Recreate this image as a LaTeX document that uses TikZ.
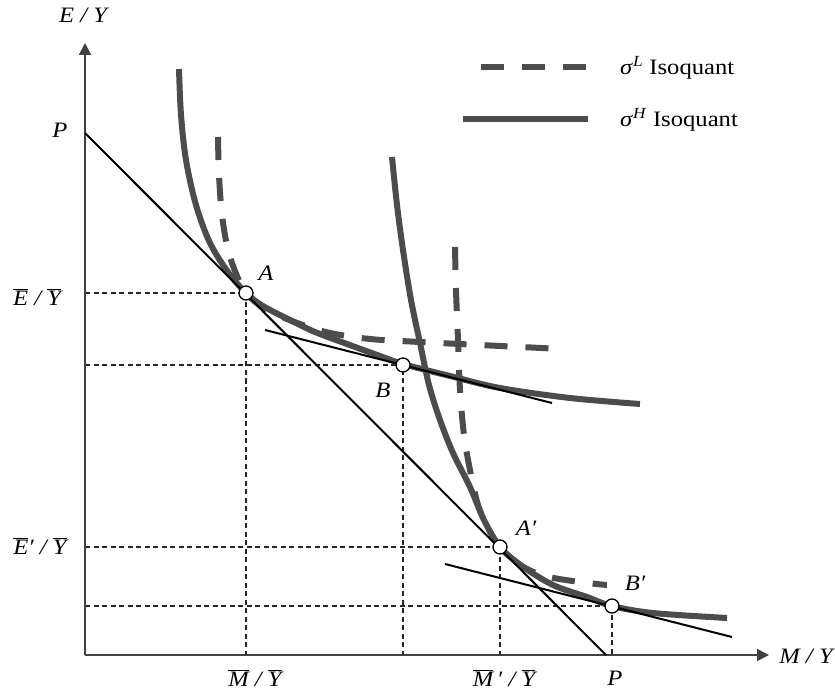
\documentclass[tikz,border=0pt]{standalone}
\usepackage{fontspec}
\setmainfont{Liberation Serif}[FakeStretch=1.12]
\usetikzlibrary{arrows.meta}
\newcommand\barit[1]{$\overline{\mbox{\itshape #1}}$}
\begin{document}
\begin{tikzpicture}[x=1pt,y=-1pt,
  axis/.style={draw=black!75,line width=2pt},
  guide/.style={draw=black!85,line width=1.3pt,dash pattern=on 5pt off 3.5pt},
  budget/.style={draw=black,line width=2pt},
  isoH/.style={draw=black!70,line width=6pt},
  isoL/.style={draw=black!70,line width=6pt,dash pattern=on 23pt off 18pt},
  pt/.style={circle,draw=black,fill=white,line width=1.3pt,minimum size=14pt,inner sep=0pt},
  lab/.style={font=\fontsize{22}{26}\selectfont\itshape,inner sep=1pt},
  leg/.style={font=\fontsize{22}{26}\selectfont,anchor=west,inner sep=0pt}]
\useasboundingbox (0,0) rectangle (835,692);
% key coordinates
\coordinate (O) at (85,655);
\coordinate (Ytop) at (85,43);
\coordinate (Xend) at (769,655);
\coordinate (P1) at (85,133);
\coordinate (P2) at (606,655);
\coordinate (Bt1) at (265,330);
\coordinate (Bt2) at (552,403);
\coordinate (Bpt1) at (445,564);
\coordinate (Bpt2) at (732,637);
\coordinate (cA) at (246,293);
\coordinate (cB) at (403,365);
\coordinate (cA2) at (500,547);
\coordinate (cB2) at (612,606);
% guide lines
\draw[guide] (O |- cA) -- (cA) -- (cA |- O);
\draw[guide] (O |- cB) -- (cB) -- (cB |- O);
\draw[guide] (O |- cA2) -- (cA2) -- (cA2 |- O);
\draw[guide] (O |- cB2) -- (cB2) -- (cB2 |- O);
% axes
\draw[axis,-{Triangle[length=12pt,width=12pt]}] (O) -- (Ytop);
\draw[axis,-{Triangle[length=12pt,width=12pt]}] (O) -- (Xend);
% dashed isoquants
\draw[isoL] plot[smooth,tension=0.55] coordinates {(218,137) (219,175) (222,215) (228,250) (237,276) (246,293) (262,307) (280,316) (300,324) (330,333) (370,339) (420,342) (480,345) (562,349)};
\draw[isoL] plot[smooth,tension=0.55] coordinates {(455,247) (456,290) (458,340) (460,390) (464,435) (470,470) (478,505) (488,528) (500,547) (520,565) (545,576) (580,582) (620,586) (667,587)};
% solid isoquants
\draw[isoH] plot[smooth,tension=0.55] coordinates {(179,69) (181,115) (186,160) (196,205) (210,243) (228,272) (246,293) (263,306) (290,320) (315,332) (347,344) (380,356) (403,364) (450,376) (500,388) (570,398) (640,404)};
\draw[isoH] plot[smooth,tension=0.55] coordinates {(392,157) (397,205) (403,250) (411,300) (420,343) (429,385) (440,420) (453,453) (470,487) (484,520) (500,547) (522,566) (553,585) (587,597) (612,606) (653,613) (727,618)};
% budget and tangent lines
\draw[budget] (P1) -- (P2);
\draw[budget] (Bt1) -- (Bt2);
\draw[budget] (Bpt1) -- (Bpt2);
% points
\node[pt] (A) at (cA) {};
\node[pt] (B) at (cB) {};
\node[pt] (A2) at (cA2) {};
\node[pt] (B2) at (cB2) {};
% labels
\node[lab] (lA) at (266,273) {A};
\node[lab] (lB) at (383,390) {B};
\node[lab] (lA2) at (526,528) {A′};
\node[lab,fill=white,minimum width=56pt,minimum height=24pt] (lB2) at (635,583) {B′};
\node[lab] (lEY) at (83,15) {E / Y};
\node[lab] (lMY) at (806,656) {M / Y};
\node[lab] (lP1) at (60,130) {P};
\node[lab] (lP2) at (615,678) {P};
\node[lab] (lE) at (37,297) {\barit{E} / \barit{Y}};
\node[lab] (lE2) at (40,546) {\barit{E}′ / \barit{Y}};
\node[lab] (lM) at (255,678) {\barit{M} / \barit{Y}};
\node[lab] (lM2) at (504,678) {\barit{M}\,′ / \barit{Y}};
% legend
\coordinate (Ld1) at (481,67);
\coordinate (Ld2) at (588,67);
\coordinate (Ls1) at (463,119);
\coordinate (Ls2) at (588,119);
\draw[isoL] (Ld1) -- (Ld2);
\draw[isoH] (Ls1) -- (Ls2);
\node[leg] (legL) at (620,68) {\textit{σ}\textsuperscript{\textit{L}} Isoquant};
\node[leg] (legH) at (620,120) {\textit{σ}\textsuperscript{\textit{H}} Isoquant};
\end{tikzpicture}
\end{document}
